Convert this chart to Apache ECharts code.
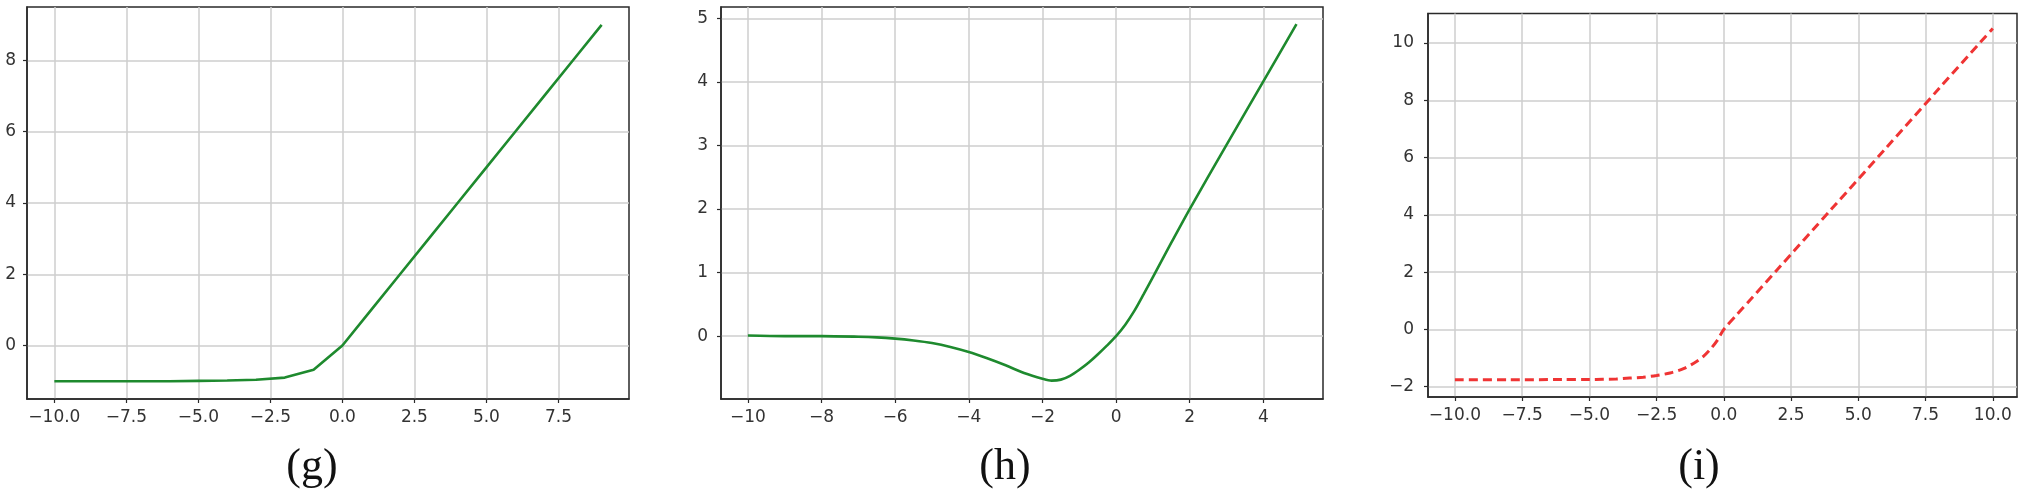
<!DOCTYPE html>
<html>
<head>
<meta charset="utf-8">
<script src="https://cdn.jsdelivr.net/npm/echarts@6/dist/echarts.min.js"></script>
<style>
html,body{margin:0;padding:0;background:#fff;}
#chart{width:2024px;height:498px;}
</style>
</head>
<body>
<div id="chart"></div>
<script>
// Panel (g)
const gX = [-10,-9,-8,-7,-6,-5,-4,-3,-2,-1,0,1,2,3,4,5,6,7,8,9];
const gY = [-1.00,-1.00,-1.00,-1.00,-1.00,-0.99,-0.98,-0.96,-0.90,-0.68,0,1,2,3,4,5,6,7,8,9];
const gXTicks = [-10,-7.5,-5,-2.5,0,2.5,5,7.5];
const gYTicks = [0,2,4,6,8];

// Panel (h)
const hX = [-10,-9,-8,-7,-6.5,-6,-5.5,-5,-4.5,-4,-3.5,-3,-2.5,-2,-1.75,-1.5,-1.25,-1,-0.75,-0.5,-0.25,0,0.25,0.5,0.75,1,1.5,2,3,4,4.9];
const hY = [0.01,0.0,0.0,-0.01,-0.02,-0.04,-0.07,-0.11,-0.17,-0.25,-0.35,-0.46,-0.58,-0.67,-0.70,-0.685,-0.625,-0.53,-0.42,-0.29,-0.15,0.0,0.18,0.40,0.66,0.93,1.47,2.0,3.01,4.01,4.91];
const hXTicks = [-10,-8,-6,-4,-2,0,2,4];
const hYTicks = [0,1,2,3,4,5];

// Panel (i)
const iX = [-10,-8,-6,-5,-4.5,-4,-3.5,-3,-2.5,-2,-1.5,-1,-0.75,-0.5,-0.25,0,0.5,1,2,4,6,8,10];
const iY = [-1.76,-1.76,-1.75,-1.75,-1.74,-1.73,-1.70,-1.67,-1.61,-1.52,-1.37,-1.11,-0.93,-0.69,-0.39,0.0,0.53,1.05,2.10,4.20,6.30,8.41,10.51];
const iXTicks = [-10,-7.5,-5,-2.5,0,2.5,5,7.5,10];
const iYTicks = [-2,0,2,4,6,8,10];

const captions = ['(g)','(h)','(i)'];

function pairs(xs, ys){ return xs.map((x,k)=>[x, ys[k]]); }
function fmt(dec){ return v => { const s = dec ? Number(v).toFixed(1) : String(Math.round(v)); return s.replace('-', '\u2212'); }; }

const FONT = 'DejaVu Sans';
const gridStyle = {show:true, borderColor:'#2a2a2a', borderWidth:1.5, backgroundColor:'transparent', outerBoundsMode:'none'};

function xAxisOf(idx, min, max, ticks, dec){
  return {
    type:'value', gridIndex:idx, min:min, max:max,
    axisLine:{show:true, onZero:false, lineStyle:{color:'#2a2a2a', width:1.5}},
    axisTick:{show:true, inside:false, length:4, customValues:ticks, lineStyle:{color:'#2a2a2a', width:1.2}},
    axisLabel:{show:true, customValues:ticks, formatter:fmt(dec), margin:10, color:'#333', fontSize:17, fontFamily:FONT},
    splitLine:{show:true, lineStyle:{color:'#cecece', width:1.5}}
  };
}
function yAxisOf(idx, min, max, ticks, margin){
  return {
    type:'value', gridIndex:idx, min:min, max:max,
    axisLine:{show:true, onZero:false, lineStyle:{color:'#2a2a2a', width:1.5}},
    axisTick:{show:true, inside:false, length:4, customValues:ticks, lineStyle:{color:'#2a2a2a', width:1.2}},
    axisLabel:{show:true, customValues:ticks, formatter:fmt(false), margin:margin, color:'#333', fontSize:17, fontFamily:FONT},
    splitLine:{show:true, lineStyle:{color:'#cecece', width:1.5}}
  };
}

const option = {
  animation:false,
  backgroundColor:'#fff',
  grid:[
    Object.assign({left:27, top:7, width:602, height:392}, gridStyle),
    Object.assign({left:721, top:7, width:602, height:392}, gridStyle),
    Object.assign({left:1428, top:13.5, width:589, height:383.5}, gridStyle)
  ],
  xAxis:[
    xAxisOf(0, -10.95, 9.95, gXTicks, true),
    xAxisOf(1, -10.73, 5.62, hXTicks, false),
    xAxisOf(2, -11.0, 10.9, iXTicks, true)
  ],
  yAxis:[
    yAxisOf(0, -1.5, 9.5, gYTicks, 11),
    yAxisOf(1, -0.99, 5.18, hYTicks, 13),
    yAxisOf(2, -2.36, 11.03, iYTicks, 14)
  ],
  series:[
    {type:'line', xAxisIndex:0, yAxisIndex:0, data:pairs(gX,gY), showSymbol:false, smooth:false,
     lineStyle:{color:'#1e8a2e', width:2.6}},
    {type:'line', xAxisIndex:1, yAxisIndex:1, data:pairs(hX,hY), showSymbol:false, smooth:0.3,
     lineStyle:{color:'#1e8a2e', width:2.6}},
    {type:'line', xAxisIndex:2, yAxisIndex:2, data:pairs(iX,iY), showSymbol:false, smooth:0.3,
     lineStyle:{color:'#ef3434', width:3, type:[9,5]}}
  ],
  graphic:[
    {type:'text', x:312, y:467, style:{text:captions[0], font:'44px "Liberation Serif"', fill:'#111', textAlign:'center', textVerticalAlign:'middle'}},
    {type:'text', x:1005, y:467, style:{text:captions[1], font:'44px "Liberation Serif"', fill:'#111', textAlign:'center', textVerticalAlign:'middle'}},
    {type:'text', x:1699, y:467, style:{text:captions[2], font:'44px "Liberation Serif"', fill:'#111', textAlign:'center', textVerticalAlign:'middle'}}
  ]
};

const chart = echarts.init(document.getElementById('chart'), null, {renderer:'canvas'});
chart.setOption(option);
</script>
</body>
</html>
